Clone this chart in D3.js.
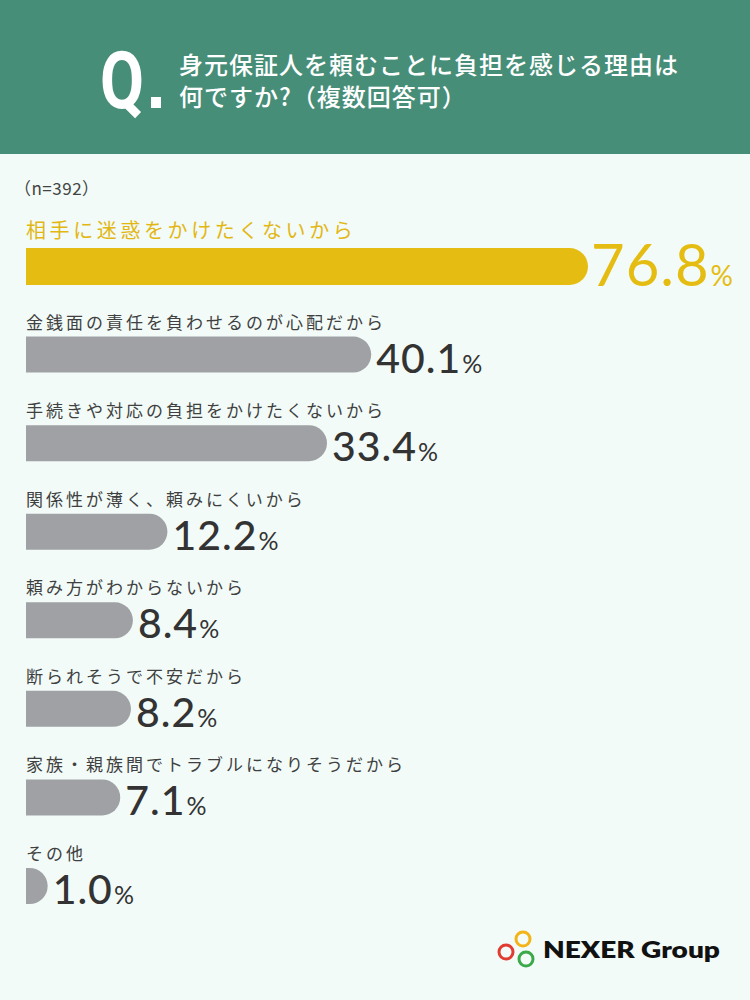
<!DOCTYPE html>
<html>
<head>
<meta charset="utf-8">
<script src="https://cdn.jsdelivr.net/npm/d3@7"></script>
<style>
  html, body { margin: 0; padding: 0; background: #f2fbf8; }
  svg { display: block; }
</style>
</head>
<body>
<div id="chart"></div>
<script>
// data
const categories = [
  "相手に迷惑をかけたくないから",
  "金銭面の責任を負わせるのが心配だから",
  "手続きや対応の負担をかけたくないから",
  "関係性が薄く、頼みにくいから",
  "頼み方がわからないから",
  "断られそうで不安だから",
  "家族・親族間でトラブルになりそうだから",
  "その他"
];
const values = [76.8, 40.1, 33.4, 12.2, 8.4, 8.2, 7.1, 1.0];
const titleLines = ["身元保証人を頼むことに負担を感じる理由は", "何ですか?（複数回答可）"];
const sampleNote = "（n=392）";

const W = 750, H = 1000;
const left = 26, barH = 36;

const svg = d3.select("#chart").append("svg")
  .attr("width", W).attr("height", H);

svg.append("rect").attr("width", W).attr("height", H).attr("fill", "#f2fbf8");

// header
svg.append("rect").attr("width", W).attr("height", 154).attr("fill", "#478e79");
svg.append("text")
  .attr("x", 100).attr("y", 108)
  .attr("font-family", "Roboto, sans-serif").attr("font-weight", 700)
  .attr("font-size", 80).attr("fill", "#fff")
  .attr("textLength", 44).attr("lengthAdjust", "spacingAndGlyphs")
  .text("Q");
svg.append("rect")
  .attr("x", 151).attr("y", 97).attr("width", 10).attr("height", 11)
  .attr("fill", "#fff");

svg.selectAll("text.title")
  .data(titleLines)
  .join("text")
  .attr("class", "title")
  .attr("x", 179)
  .attr("y", (d, i) => 74 + i * 32)
  .attr("font-family", "'Noto Sans CJK JP', sans-serif")
  .attr("font-weight", 500)
  .attr("font-size", 24)
  .attr("letter-spacing", 1)
  .attr("fill", "#fff")
  .text(d => d);

svg.append("text")
  .attr("x", 14).attr("y", 195)
  .attr("font-family", "'Noto Sans CJK JP', sans-serif")
  .attr("font-size", 17).attr("letter-spacing", 0.5).attr("fill", "#444")
  .text(sampleNote);

// scales
const x = d3.scalePow().exponent(0.75).domain([0, 76.8]).range([0, 562]);
const y = d3.scalePoint().domain(categories).range([248, 868]);

const rows = categories.map((c, i) => ({ label: c, value: values[i], top: i === 0 }));

// bar with flat left end and rounded right end
function barPath(w, h) {
  const r = h / 2;
  if (w >= r) {
    return `M0,0H${w - r}A${r},${r} 0 0 1 ${w - r},${h}H0Z`;
  }
  const s = Math.sqrt(r * r - (r - w) * (r - w));
  return `M0,${r - s}A${r},${r} 0 0 1 0,${r + s}Z`;
}

const g = svg.append("g").attr("transform", `translate(${left},0)`);

const row = g.selectAll("g.row")
  .data(rows)
  .join("g")
  .attr("class", "row")
  .attr("transform", d => `translate(0,${y(d.label)})`);

row.append("text")
  .attr("x", 0)
  .attr("y", d => d.top ? -10 : -8)
  .attr("font-family", "'Noto Sans CJK JP', sans-serif")
  .attr("font-size", d => d.top ? 20 : 17)
  .attr("letter-spacing", d => d.top ? 3.6 : 3)
  .attr("fill", d => d.top ? "#e2b714" : "#404040")
  .text(d => d.label);

row.append("path")
  .attr("d", d => barPath(x(d.value), d.top ? 37 : barH))
  .attr("fill", d => d.top ? "#e5bd12" : "#a0a1a5");

const val = row.append("text")
  .attr("x", d => x(d.value) + (d.top ? 3 : 5))
  .attr("y", d => d.top ? 38 : barH)
  .attr("font-family", "Lato, sans-serif")
  .attr("fill", d => d.top ? "#e5bd12" : "#333");

val.append("tspan")
  .attr("font-size", d => d.top ? 58 : 41)
  .attr("font-weight", d => d.top ? 400 : 500)
  .attr("letter-spacing", 1)
  .text(d => d.value.toFixed(1));

val.append("tspan")
  .attr("dx", 1)
  .attr("font-size", d => d.top ? 28 : 25)
  .attr("font-weight", 400)
  .text("%");

// logo
const logo = svg.append("g");
const rings = [
  { cx: 506, cy: 952, color: "#e03c31" },
  { cx: 523, cy: 939, color: "#f2b418" },
  { cx: 526, cy: 959, color: "#3ba94a" }
];
logo.selectAll("circle")
  .data(rings)
  .join("circle")
  .attr("cx", d => d.cx).attr("cy", d => d.cy).attr("r", 7)
  .attr("fill", "none").attr("stroke", d => d.color).attr("stroke-width", 3);

logo.append("text")
  .attr("x", 543).attr("y", 958)
  .attr("font-family", "Lato, sans-serif").attr("font-weight", 800)
  .attr("font-size", 23).attr("fill", "#111")
  .attr("textLength", 177).attr("lengthAdjust", "spacingAndGlyphs")
  .text("NEXER Group");
</script>
</body>
</html>
